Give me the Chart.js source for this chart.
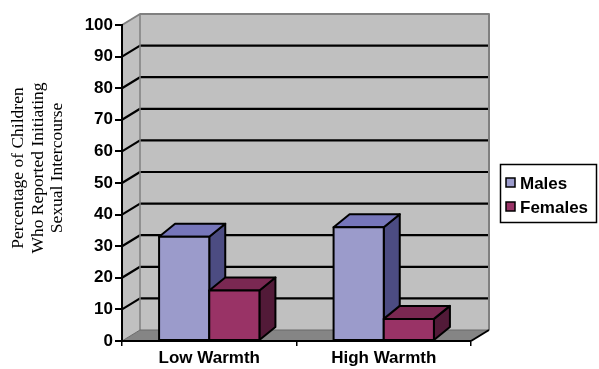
<!DOCTYPE html>
<html>
<head>
<meta charset="utf-8">
<script src="https://cdn.jsdelivr.net/npm/chart.js@4/dist/chart.umd.min.js"></script>
<style>
  html, body { margin: 0; padding: 0; background: #fff; }
  #wrap { width: 599px; height: 369px; position: relative; }
</style>
</head>
<body>
<div id="wrap"><canvas id="chart"></canvas></div>
<script>
'use strict';

var categories = ['Low Warmth', 'High Warmth'];
var males = [33, 36];
var females = [16, 7];
var yMin = 0, yMax = 100, yStep = 10;
var yTitle = ['Percentage of Children', 'Who Reported Initiating', 'Sexual Intercourse'];

// depth of the 3d box and of the bars
var DX = 18, DY = -11;
var BDX = 16, BDY = -13;
var SANS = "'Liberation Sans', Arial, sans-serif";

function poly(ctx, pts, fill, stroke, lw) {
  ctx.beginPath();
  ctx.moveTo(pts[0][0], pts[0][1]);
  for (var i = 1; i < pts.length; i++) ctx.lineTo(pts[i][0], pts[i][1]);
  ctx.closePath();
  if (fill) { ctx.fillStyle = fill; ctx.fill(); }
  if (stroke) { ctx.strokeStyle = stroke; ctx.lineWidth = lw || 2; ctx.stroke(); }
}

function line(ctx, pts, color, lw) {
  ctx.beginPath();
  ctx.moveTo(pts[0][0], pts[0][1]);
  for (var i = 1; i < pts.length; i++) ctx.lineTo(pts[i][0], pts[i][1]);
  ctx.strokeStyle = color; ctx.lineWidth = lw; ctx.stroke();
}

var box3d = {
  id: 'box3d',
  beforeDraw: function(chart) {
    var a = chart.chartArea, ys = chart.scales.y, ctx = chart.ctx;
    ctx.save();
    ctx.lineJoin = 'round';
    // back wall, side wall, floor
    poly(ctx, [[a.left + DX, a.top + DY], [a.right + DX, a.top + DY], [a.right + DX, a.bottom + DY], [a.left + DX, a.bottom + DY]], '#c0c0c0');
    poly(ctx, [[a.left, a.top], [a.left + DX, a.top + DY], [a.left + DX, a.bottom + DY], [a.left, a.bottom]], '#c0c0c0');
    poly(ctx, [[a.left, a.bottom], [a.right, a.bottom], [a.right + DX, a.bottom + DY], [a.left + DX, a.bottom + DY]], '#858585');
    // gridlines on side and back wall
    ys.ticks.forEach(function(t) {
      if (t.value <= yMin || t.value >= yMax) return;
      var py = ys.getPixelForValue(t.value);
      line(ctx, [[a.left, py], [a.left + DX, py + DY], [a.right + DX, py + DY]], '#000', 2.2);
    });
    // wall edges
    line(ctx, [[a.left, a.top], [a.left + DX, a.top + DY], [a.right + DX, a.top + DY], [a.right + DX, a.bottom + DY]], '#808080', 2);
    line(ctx, [[a.left + DX, a.top + DY], [a.left + DX, a.bottom + DY]], '#808080', 1.5);
    line(ctx, [[a.left, a.bottom], [a.left + DX, a.bottom + DY], [a.right + DX, a.bottom + DY]], '#6a6a6a', 1);
    line(ctx, [[a.right, a.bottom], [a.right + DX, a.bottom + DY]], '#000', 2);
    ctx.restore();
  },
  afterDatasetsDraw: function(chart) {
    var ctx = chart.ctx;
    ctx.save();
    ctx.lineJoin = 'round';
    for (var i = 0; i < categories.length; i++) {
      chart.data.datasets.forEach(function(ds, d) {
        var bar = chart.getDatasetMeta(d).data[i];
        var l = bar.x - bar.width / 2, r = bar.x + bar.width / 2, t = bar.y, b = bar.base;
        poly(ctx, [[r, t], [r + BDX, t + BDY], [r + BDX, b + BDY], [r, b]], ds.sideColor, '#000', 2);
        poly(ctx, [[l, t], [l + BDX, t + BDY], [r + BDX, t + BDY], [r, t]], ds.topColor, '#000', 2);
        poly(ctx, [[l, t], [r, t], [r, b], [l, b]], ds.backgroundColor, '#000', 2);
      });
    }
    ctx.restore();
  },
  afterDraw: function(chart) {
    var ctx = chart.ctx;
    ctx.save();
    // y axis title
    ctx.translate(38, 168);
    ctx.rotate(-Math.PI / 2);
    ctx.fillStyle = '#000';
    ctx.font = "17.5px 'Liberation Serif', 'Times New Roman', serif";
    ctx.textAlign = 'center';
    ctx.textBaseline = 'middle';
    yTitle.forEach(function(s, k) {
      ctx.fillText(s, 0, (k - 1) * 19.5);
    });
    ctx.restore();

    // legend
    ctx.save();
    ctx.strokeStyle = '#000';
    ctx.lineWidth = 1.5;
    ctx.strokeRect(500.5, 164.5, 96, 58);
    ctx.font = 'bold 17px ' + SANS;
    ctx.textBaseline = 'alphabetic';
    ctx.textAlign = 'left';
    chart.data.datasets.forEach(function(ds, d) {
      var cy = 182.5 + d * 24;
      ctx.fillStyle = ds.backgroundColor;
      ctx.fillRect(506, cy - 4.5, 9, 9);
      ctx.lineWidth = 1.5;
      ctx.strokeRect(506, cy - 4.5, 9, 9);
      ctx.fillStyle = '#000';
      ctx.fillText(ds.label, 520, cy + 6);
    });
    ctx.restore();
  }
};

new Chart(document.getElementById('chart'), {
  type: 'bar',
  data: {
    labels: categories,
    datasets: [
      { label: 'Males', data: males, backgroundColor: '#9b9bcb', topColor: '#7676ba', sideColor: '#4c4c82',
        borderColor: '#000', borderWidth: 2 },
      { label: 'Females', data: females, backgroundColor: '#993366', topColor: '#7a2852', sideColor: '#521a38',
        borderColor: '#000', borderWidth: 2 }
    ]
  },
  options: {
    responsive: true, maintainAspectRatio: false, animation: false,
    categoryPercentage: 0.575, barPercentage: 1.0,
    layout: { padding: { left: 0, top: 25, right: 128, bottom: 0 } },
    plugins: { legend: { display: false }, tooltip: { enabled: false } },
    scales: {
      x: {
        afterFit: function(s) { s.height = 28; },
        grid: { offset: true, drawOnChartArea: false, drawTicks: true, tickLength: 5, color: '#000', lineWidth: 1.5 },
        border: { display: true, color: '#000', width: 2 },
        ticks: { color: '#000', padding: 2, font: { family: SANS, size: 17, weight: 'bold' } }
      },
      y: {
        min: yMin, max: yMax,
        afterFit: function(s) { s.width = 122; },
        grid: { drawOnChartArea: false, drawTicks: true, tickLength: 7, color: '#000', lineWidth: 2 },
        border: { display: true, color: '#000', width: 2 },
        ticks: { stepSize: yStep, color: '#000', padding: 2, font: { family: SANS, size: 17, weight: 'bold' } }
      }
    }
  },
  plugins: [box3d]
});
</script>
</body>
</html>
